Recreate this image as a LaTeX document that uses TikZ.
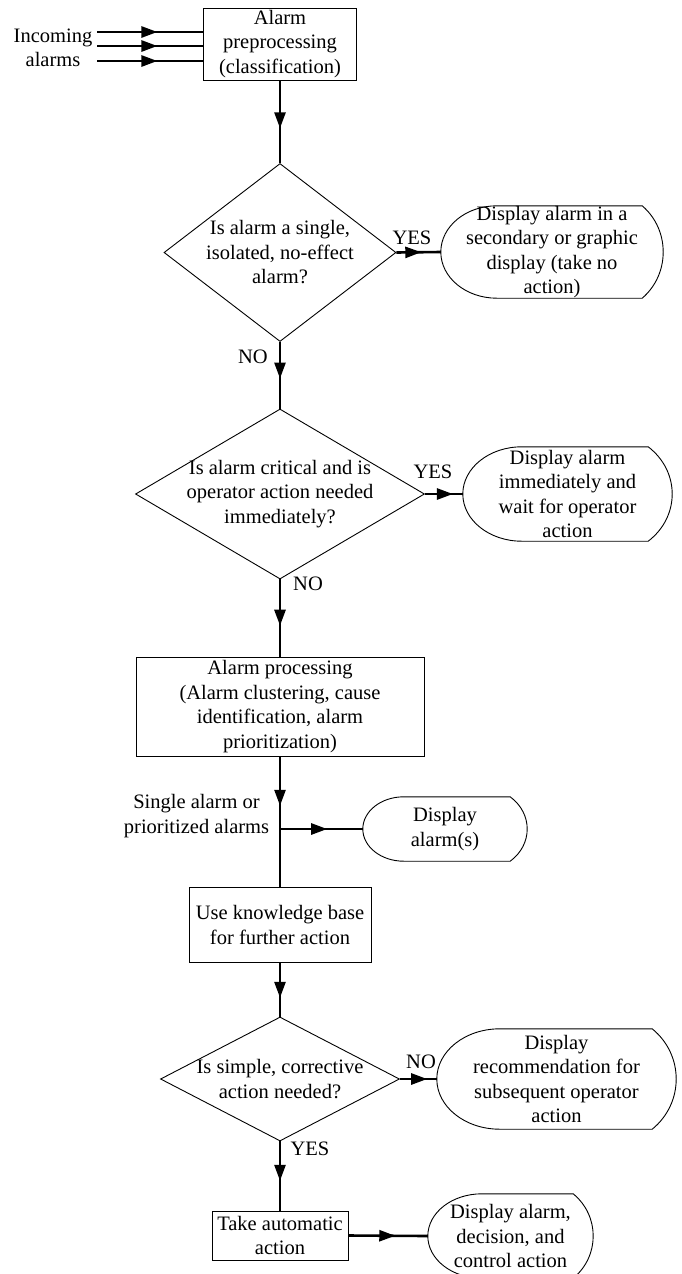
\documentclass[tikz,border=0pt]{standalone}
\usepackage{fontspec}
\setmainfont{Liberation Serif}
\usetikzlibrary{arrows.meta,shapes.geometric,calc,decorations.markings}

\tikzset{
  txt/.style={font=\fontsize{20.5}{24.5}\selectfont, align=center},
  outline/.style={draw, line width=0.9pt},
  process/.style={rectangle, outline, txt, inner sep=0pt},
  decision/.style={diamond, outline, inner sep=0pt},
  display/.style={rectangle, txt, inner xsep=0pt, inner ysep=-12pt},
  flow/.style={line width=2.6pt, postaction={decorate},
    decoration={markings, mark=at position #1 with {\arrow{Triangle[length=16pt,width=11pt]}}}},
  flow/.default=0.6,
}

% display symbol: round left side, bent right side
\newcommand{\dispshape}[3]{%
  \draw[outline] let \p1=(#1.north west), \p2=(#1.south east), \n1={(\y1-\y2)/2} in
    (\x2-#3pt,\y1) -- (\x1+#2pt,\y1)
    arc[start angle=90, end angle=270, x radius=#2pt, y radius=\n1]
    -- (\x2-#3pt,\y2)
    .. controls (\x2+#3pt/3,\y2+0.52*\n1) and (\x2+#3pt/3,\y1-0.52*\n1) .. cycle;
}

\begin{document}
\begin{tikzpicture}[x=1pt,y=1pt]
  \useasboundingbox (0,0) rectangle (681,-1274);
  \clip (0,0) rectangle (681,-1274);

  %% main column
  \node[process, minimum width=153pt, minimum height=72pt] (pre) at (280,-44)
       {Alarm\\preprocessing\\(classification)};
  \node[decision, minimum width=232pt, minimum height=178pt,
        label={[txt]center:{Is alarm a single,\\isolated, no-effect\\alarm?}}] (isol) at (280,-252.5) {};
  \node[decision, minimum width=289pt, minimum height=170pt,
        label={[txt]center:{Is alarm critical and is\\operator action needed\\immediately?}}] (crit) at (280,-494) {};
  \node[process, minimum width=288pt, minimum height=99pt] (proc) at (280,-706.5)
       {Alarm processing\\(Alarm clustering, cause\\identification, alarm\\prioritization)};
  \coordinate (split) at (280,-829);
  \node[process, minimum width=182pt, minimum height=75pt] (kb) at (280,-925)
       {Use knowledge base\\for further action};
  \node[decision, minimum width=239pt, minimum height=124pt,
        label={[txt]center:{Is simple, corrective\\action needed?}}] (simple) at (280,-1079) {};
  \node[process, minimum width=136pt, minimum height=49pt] (auto) at (280,-1235.5)
       {Take automatic\\action};

  %% display boxes
  \node[display, minimum width=222pt, minimum height=92pt] (show1) at (552,-252)
       {Display alarm in a\\secondary or graphic\\display (take no\\action)};
  \node[display, minimum width=209pt, minimum height=94pt] (show2) at (567.5,-494)
       {Display alarm\\immediately and\\wait for operator\\action};
  \node[display, minimum width=164pt, minimum height=64pt] (show3) at (445,-829)
       {Display\\alarm(s)};
  \node[display, minimum width=239pt, minimum height=100pt] (show4) at (556.5,-1079)
       {Display\\recommendation for\\subsequent operator\\action};
  \node[display, minimum width=165pt, minimum height=84pt] (show5) at (510.5,-1236)
       {Display alarm,\\decision, and\\control action};
  \dispshape{show1}{56}{21}
  \dispshape{show2}{59}{24}
  \dispshape{show3}{41}{17}
  \dispshape{show4}{63}{24}
  \dispshape{show5}{54}{20}

  %% incoming alarms
  \node[txt] (inc) at (53,-48) {Incoming\\alarms};
  \coordinate (in1) at (97,-32);
  \coordinate (in2) at (97,-46);
  \coordinate (in3) at (97,-61);
  \foreach \src in {in1,in2,in3}
    \draw[flow=0.57] (\src) -- (\src -| pre.west);

  %% connectors
  \draw[flow=0.58] (pre.south) -- (isol.north);
  \draw[flow=0.56] (isol.east) -- (show1.west);
  \draw[flow=0.55] (isol.south) -- (crit.north);
  \draw[flow=0.74] (crit.east) -- (show2.west);
  \draw[flow=0.6] (crit.south) -- (proc.north);
  \draw[flow=0.68] (proc.south) -- (split);
  \draw[flow=0.57] (split) -- (show3.west);
  \draw[line width=2.6pt] (split) -- (kb.north);
  \draw[flow=0.65] (kb.south) -- (simple.north);
  \draw[flow=0.74] (simple.east) -- (show4.west);
  \draw[flow=0.57] (simple.south) -- (auto.north);
  \draw[flow=0.59] (auto.east) -- (show5.west);

  %% branch labels
  \node[txt] (yes1) at (412,-238) {YES};
  \node[txt] (no1) at (253,-357) {NO};
  \node[txt] (yes2) at (433,-472) {YES};
  \node[txt] (no2) at (308,-584) {NO};
  \node[txt] (single) at (196.5,-816) {Single alarm or\\prioritized alarms};
  \node[txt] (no3) at (421,-1062) {NO};
  \node[txt] (yes3) at (310,-1149) {YES};
\end{tikzpicture}
\end{document}
